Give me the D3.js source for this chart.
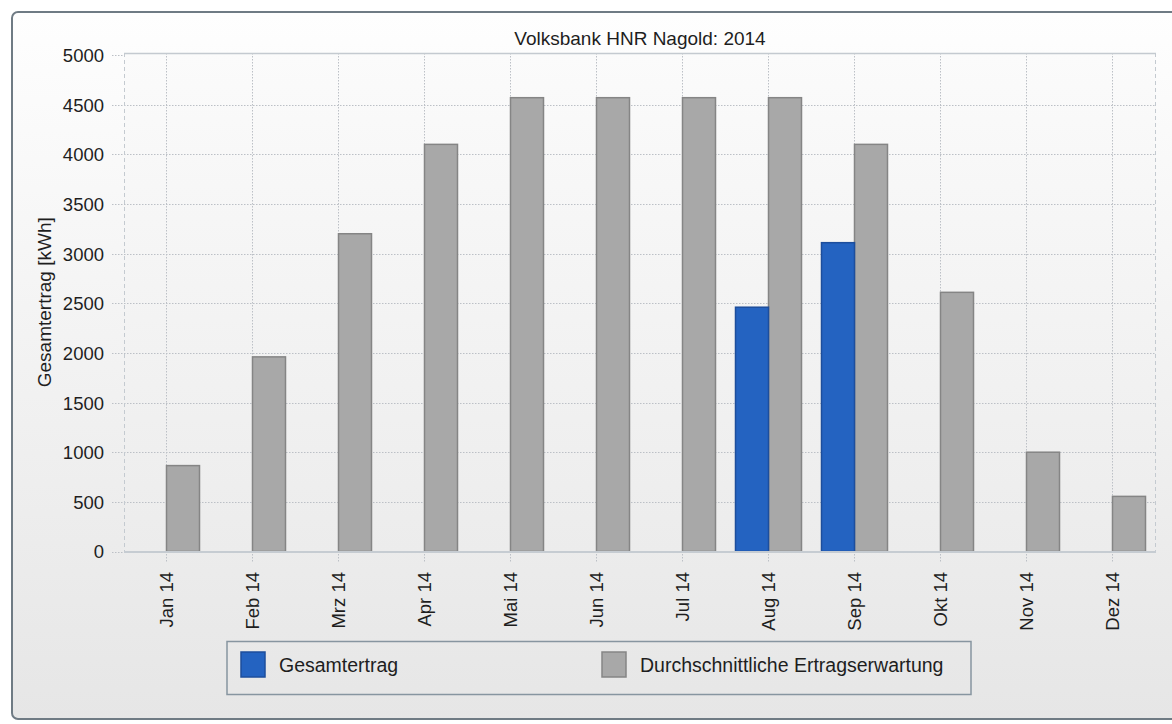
<!DOCTYPE html>
<html><head><meta charset="utf-8">
<script src="https://cdn.jsdelivr.net/npm/d3@7"></script>
<style>html,body{margin:0;padding:0;background:#fff;overflow:hidden}svg{display:block}</style>
</head><body>
<svg id="chart" width="1172" height="724"></svg>
<script>
const title = "Volksbank HNR Nagold: 2014";
const yTitle = "Gesamtertrag [kWh]";
const months = ["Jan 14","Feb 14","Mrz 14","Apr 14","Mai 14","Jun 14","Jul 14","Aug 14","Sep 14","Okt 14","Nov 14","Dez 14"];
const gesamtertrag = [null,null,null,null,null,null,null,2460,3110,null,null,null];
const erwartung = [865,1960,3200,4100,4570,4570,4570,4570,4100,2610,1000,555];
const yTicks = [0,500,1000,1500,2000,2500,3000,3500,4000,4500,5000];
const seriesNames = ["Gesamtertrag","Durchschnittliche Ertragserwartung"];
const seriesColors = ["#2463c1","#a8a8a8"];
const seriesStroke = ["#1d4e9c","#858585"];

const svg = d3.select("#chart");
const FONT = "'Liberation Sans', Arial, sans-serif";
const defs = svg.append("defs");
const g1 = defs.append("linearGradient").attr("id","panelGrad").attr("x1",0).attr("y1",0).attr("x2",0).attr("y2",1);
g1.append("stop").attr("offset","0%").attr("stop-color","#fefefe");
g1.append("stop").attr("offset","100%").attr("stop-color","#e6e6e6");
const g2 = defs.append("linearGradient").attr("id","plotGrad").attr("x1",0).attr("y1",0).attr("x2",0).attr("y2",1);
g2.append("stop").attr("offset","0%").attr("stop-color","#fbfbfb");
g2.append("stop").attr("offset","100%").attr("stop-color","#ececec");

// panel
svg.append("rect").attr("x",12).attr("y",12).attr("width",1180).attr("height",707).attr("rx",6)
  .attr("fill","url(#panelGrad)").attr("stroke","#6f7b84").attr("stroke-width",2);

const L=124, R=1156, T=53, B=551.5;
const x = d3.scaleBand().domain(months).range([L,R]).padding(0);
const y = d3.scaleLinear().domain([0,5000]).range([B,55]);
const bw = 33;

svg.append("rect").attr("x",L).attr("y",T).attr("width",R-L).attr("height",B-T).attr("fill","url(#plotGrad)");

// grid
const grid = svg.append("g");
grid.selectAll("line.h").data(yTicks.filter(d=>d>0 && d<5000)).join("line")
  .attr("x1",112).attr("x2",R).attr("y1",d=>Math.round(y(d))+0.5).attr("y2",d=>Math.round(y(d))+0.5)
  .attr("stroke","#bcc0c6").attr("stroke-dasharray","1.5,1.5");
grid.selectAll("line.h0").data([0,5000]).join("line")
  .attr("x1",112).attr("x2",L).attr("y1",d=>Math.round(y(d))+0.5).attr("y2",d=>Math.round(y(d))+0.5)
  .attr("stroke","#bcc0c6").attr("stroke-dasharray","1.5,1.5");
grid.selectAll("line.v").data(months).join("line")
  .attr("x1",d=>Math.round(x(d)+x.bandwidth()/2)-0.5).attr("x2",d=>Math.round(x(d)+x.bandwidth()/2)-0.5)
  .attr("y1",T).attr("y2",563)
  .attr("stroke","#bcc0c6").attr("stroke-dasharray","1.5,1.5");

// frame
svg.append("line").attr("x1",L).attr("x2",R).attr("y1",T+0.5).attr("y2",T+0.5).attr("stroke","#c4cad0").attr("stroke-width",1.5);
svg.append("line").attr("x1",L+0.5).attr("x2",L+0.5).attr("y1",T).attr("y2",B).attr("stroke","#c4cad0").attr("stroke-dasharray","4,3");
svg.append("line").attr("x1",R-0.5).attr("x2",R-0.5).attr("y1",T).attr("y2",B).attr("stroke","#c4cad0").attr("stroke-dasharray","4,3");

// bars
const bars = svg.append("g");
bars.selectAll("rect.g").data(months.map((m,i)=>({m,v:erwartung[i]})).filter(d=>d.v!=null)).join("rect")
  .attr("x",d=>x(d.m)+x.bandwidth()/2-0.5).attr("width",bw)
  .attr("y",d=>y(d.v)).attr("height",d=>y(0)-y(d.v))
  .attr("fill",seriesColors[1]).attr("stroke",seriesStroke[1]).attr("stroke-width",1.5);
bars.selectAll("rect.b").data(months.map((m,i)=>({m,v:gesamtertrag[i]})).filter(d=>d.v!=null)).join("rect")
  .attr("x",d=>x(d.m)+x.bandwidth()/2-0.5-bw).attr("width",bw)
  .attr("y",d=>y(d.v)).attr("height",d=>y(0)-y(d.v))
  .attr("fill",seriesColors[0]).attr("stroke",seriesStroke[0]).attr("stroke-width",1.5);

// x axis line
svg.append("line").attr("x1",L).attr("x2",R).attr("y1",B+0.5).attr("y2",B+0.5).attr("stroke","#c6ccd2").attr("stroke-width",2);

// y axis labels
const yAxis = d3.axisLeft(y).tickValues(yTicks).tickFormat(d3.format("d")).tickSize(0).tickPadding(0);
const ya = svg.append("g").attr("transform","translate(104,0)").call(yAxis);
ya.select(".domain").remove();
ya.selectAll("text").attr("font-family",FONT).attr("font-size",18.5).attr("fill","#1e1e1e").attr("dy","0.35em");

// x axis labels
const xAxis = d3.axisBottom(x).tickSize(0).tickPadding(0);
const xa = svg.append("g").attr("transform","translate(0,572)").call(xAxis);
xa.select(".domain").remove();
xa.selectAll("text").attr("font-family",FONT).attr("font-size",18.5).attr("fill","#1e1e1e")
  .attr("transform","rotate(-90)").attr("text-anchor","end").attr("x",0).attr("y",0).attr("dy","0.35em");
xa.selectAll(".tick").attr("transform",d=>`translate(${x(d)+x.bandwidth()/2-0.5},0)`);

// title
svg.append("text").attr("x",(L+R)/2).attr("y",45).attr("text-anchor","middle")
  .attr("font-family",FONT).attr("font-size",19).attr("fill","#1e1e1e").text(title);
// y title
svg.append("text").attr("transform",`translate(51,${(T+B)/2}) rotate(-90)`).attr("text-anchor","middle")
  .attr("font-family",FONT).attr("font-size",19).attr("fill","#1e1e1e").text(yTitle);

// legend
const lg = svg.append("g");
lg.append("rect").attr("x",227).attr("y",641.5).attr("width",744).attr("height",53).attr("fill","none").attr("stroke","#8795a0").attr("stroke-width",1.5);
const lx = [241, 602];
seriesNames.forEach((n,i)=>{
  lg.append("rect").attr("x",lx[i]).attr("y",652).attr("width",24).attr("height",25)
    .attr("fill",seriesColors[i]).attr("stroke",seriesStroke[i]).attr("stroke-width",1.5);
  lg.append("text").attr("x",lx[i]+38).attr("y",665).attr("dy","0.35em")
    .attr("font-family",FONT).attr("font-size",19.5).attr("fill","#1e1e1e").text(n);
});
</script>
</body></html>
